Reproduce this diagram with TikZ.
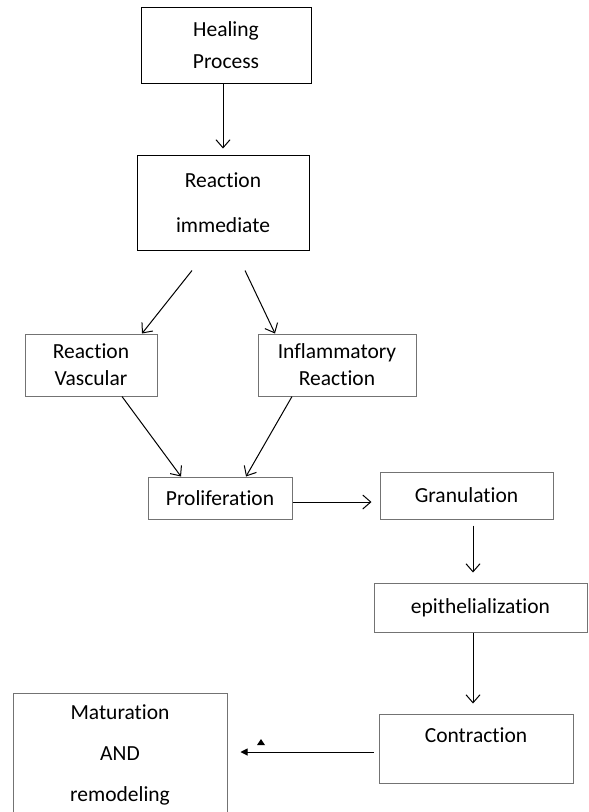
\documentclass[tikz,border=0pt]{standalone}
\usepackage{fontspec}
\setmainfont[Ligatures=CommonOff]{Carlito}
\usetikzlibrary{arrows.meta}
\begin{document}
\begin{tikzpicture}[x=1pt, y=-1pt,
    box/.style={draw, line width=1pt, align=center, inner sep=0pt,
        font=\fontsize{21.5}{27}\selectfont},
    greybox/.style={box, draw=black!55},
    arr/.style={-{Straight Barb[length=8pt,width=14pt]}, line width=1pt}]
    \useasboundingbox (0,0) rectangle (589,812);
    \clip (0,0) rectangle (589,812);

    % Top boxes
    \node[box, minimum width=170, minimum height=76,
        font=\fontsize{21.5}{32}\selectfont] (heal) at (226,45) {Healing\\Process};
    \node[box, minimum width=172, minimum height=95,
        font=\fontsize{21.5}{45}\selectfont] (react) at (223,202.5) {Reaction\\immediate};
    \draw[arr, shorten >=6pt] (heal.south -| react.north) -- (react.north);

    % Vascular and inflammatory branch
    \node[greybox, minimum width=132, minimum height=62] (vasc) at (91,365) {Reaction\\Vascular};
    \node[greybox, minimum width=158, minimum height=62] (infl) at (337,365) {Inflammatory\\Reaction};
    \draw[arr] ([xshift=-31pt, yshift=-20pt]react.south) -- ([xshift=51pt]vasc.north);
    \draw[arr] ([xshift=22pt, yshift=-20pt]react.south) -- ([xshift=-62pt]infl.north);

    % Proliferation
    \node[greybox, minimum width=144, minimum height=42] (prolif) at (220,498) {Proliferation};
    \draw[arr] ([xshift=31pt]vasc.south) -- ([xshift=-39pt]prolif.north);
    \draw[arr] ([xshift=-45pt]infl.south) -- ([xshift=26pt]prolif.north);

    % Right column
    \node[greybox, minimum width=173, minimum height=47] (gran) at (466.5,495.5) {Granulation};
    \node[greybox, minimum width=213, minimum height=49] (epi) at (480.5,607.5) {epithelialization};
    \node[greybox, minimum width=194, minimum height=69] (contr) at (476,748.5) {Contraction\\~};
    \draw[arr, shorten >=8pt] ([yshift=-4pt]prolif.east) -- ([yshift=-4pt]prolif.east -| gran.west);
    \draw[arr, shorten <=6pt, shorten >=10pt] ([xshift=6.5pt]gran.south) -- ([xshift=6.5pt]gran.south |- epi.north);
    \draw[arr, shorten >=10pt] ([xshift=-7.5pt]epi.south) -- ([xshift=-7.5pt]epi.south |- contr.north);

    % Maturation box, cut by the page
    \node[greybox, minimum width=214, minimum height=124,
        font=\fontsize{21.5}{41}\selectfont] (matur) at (120,755) {Maturation\\AND\\remodeling};
    \draw[-{Triangle[length=7pt,width=7pt]}, line width=1pt, shorten <=5pt, shorten >=13pt]
        ([yshift=-3.5pt]contr.west) -- ([yshift=-3.5pt]contr.west -| matur.east);
    \fill (257,745) -- (265,745) -- (261,739) -- cycle;
\end{tikzpicture}
\end{document}
